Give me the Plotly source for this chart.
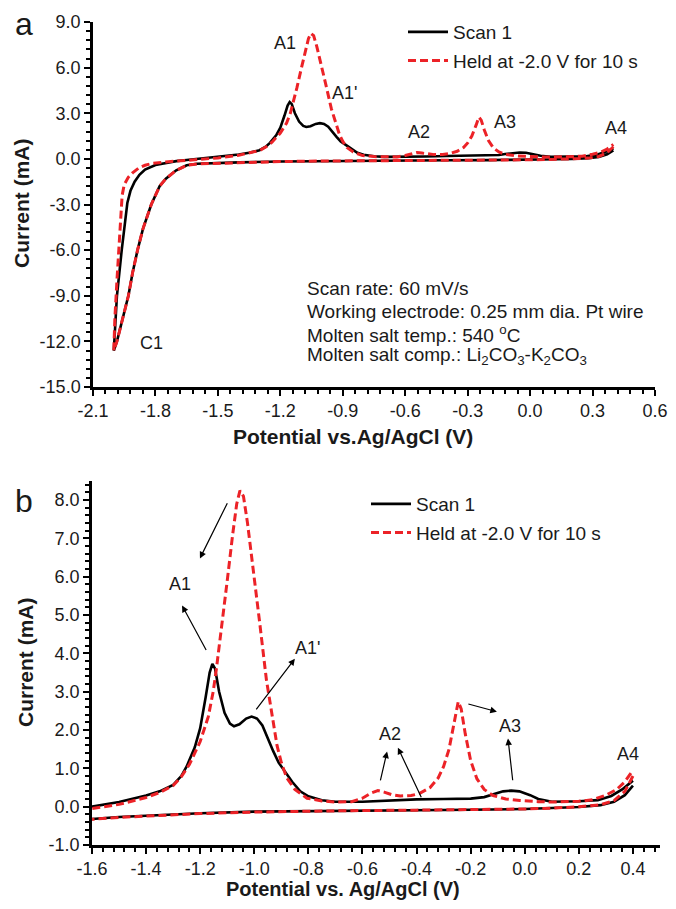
import plotly.graph_objects as go

# ---------------- data (V vs Ag/AgCl, mA) ----------------
# Scan 1: cathodic sweep 0.4 -> -2.0 V, then anodic sweep -2.0 -> 0.4 V
scan1_v = [0.40, 0.37, 0.33, 0.28, 0.20, 0.10, 0.00, -0.20, -0.40, -0.60, -0.80, -1.00,
           -1.20, -1.40, -1.50, -1.60, -1.65, -1.70, -1.75, -1.78, -1.82, -1.86, -1.886,
           -1.91, -1.93, -1.96, -1.985, -2.00,
           -1.995, -1.985, -1.962, -1.945, -1.935, -1.92, -1.90, -1.877, -1.85, -1.80,
           -1.75, -1.70, -1.65, -1.60, -1.50, -1.40, -1.35, -1.30, -1.27, -1.25, -1.22,
           -1.20, -1.18, -1.165, -1.155, -1.145, -1.13, -1.11, -1.09, -1.075, -1.055,
           -1.03, -1.01, -0.99, -0.97, -0.955, -0.93, -0.91, -0.89, -0.86, -0.83, -0.80,
           -0.75, -0.70, -0.60, -0.50, -0.40, -0.30, -0.20, -0.15, -0.12, -0.08, -0.05,
           -0.02, 0.02, 0.05, 0.10, 0.20, 0.27, 0.32, 0.36, 0.40]
scan1_i = [0.55, 0.30, 0.13, 0.04, -0.01, -0.04, -0.06, -0.08, -0.09, -0.10, -0.12, -0.13,
           -0.17, -0.23, -0.27, -0.32, -0.42, -0.75, -1.30, -1.80, -3.00, -4.60, -6.00,
           -7.50, -9.00, -10.60, -12.00, -12.60,
           -11.50, -9.00, -6.00, -3.80, -2.90, -2.10, -1.50, -1.05, -0.70, -0.40,
           -0.25, -0.15, -0.07, 0.00, 0.12, 0.29, 0.40, 0.57, 0.80, 1.05, 1.55,
           2.05, 2.85, 3.50, 3.73, 3.60, 3.00, 2.45, 2.17, 2.10, 2.15,
           2.30, 2.35, 2.30, 2.12, 1.85, 1.45, 1.15, 0.95, 0.65, 0.40, 0.27,
           0.17, 0.13, 0.13, 0.16, 0.19, 0.20, 0.21, 0.25, 0.32, 0.40, 0.42,
           0.40, 0.30, 0.20, 0.13, 0.14, 0.17, 0.28, 0.45, 0.68]

# Held at -2.0 V for 10 s
held_v = [0.40, 0.37, 0.33, 0.28, 0.20, 0.10, 0.00, -0.20, -0.40, -0.60, -0.80, -1.00,
          -1.20, -1.40, -1.50, -1.60, -1.65, -1.70, -1.75, -1.78, -1.82, -1.86, -1.886,
          -1.91, -1.93, -1.96, -1.985, -2.00,
          -1.995, -1.985, -1.975, -1.968, -1.96, -1.95, -1.93, -1.91, -1.88, -1.85,
          -1.815, -1.75, -1.70, -1.60, -1.50, -1.40, -1.35, -1.30, -1.27, -1.24, -1.20,
          -1.17, -1.152, -1.14, -1.12, -1.10, -1.08, -1.065, -1.053, -1.04, -1.025,
          -1.005, -0.98, -0.955, -0.935, -0.916, -0.90, -0.88, -0.85, -0.805, -0.75,
          -0.70, -0.64, -0.60, -0.57, -0.543, -0.52, -0.49, -0.46, -0.42, -0.39, -0.35,
          -0.32, -0.30, -0.28, -0.26, -0.246, -0.235, -0.22, -0.20, -0.177, -0.15,
          -0.117, -0.07, -0.018, 0.05, 0.104, 0.20, 0.25, 0.30, 0.34, 0.37, 0.40]
held_i = [0.80, 0.40, 0.16, 0.05, 0.00, -0.04, -0.06, -0.08, -0.09, -0.10, -0.12, -0.14,
          -0.18, -0.24, -0.28, -0.33, -0.43, -0.75, -1.30, -1.80, -3.00, -4.60, -6.00,
          -7.50, -9.00, -10.60, -12.00, -12.60,
          -10.50, -8.00, -5.50, -3.50, -2.40, -1.70, -1.20, -0.92, -0.60, -0.42,
          -0.30, -0.20, -0.14, -0.05, 0.06, 0.24, 0.37, 0.55, 0.78, 1.10, 1.70,
          2.35, 3.00, 3.60, 4.70, 5.90, 7.10, 7.90, 8.25, 8.10, 7.40,
          6.30, 4.80, 3.30, 2.40, 1.60, 1.15, 0.75, 0.45, 0.22, 0.15,
          0.12, 0.13, 0.22, 0.35, 0.42, 0.38, 0.31, 0.28, 0.29, 0.34, 0.50,
          0.75, 1.05, 1.50, 2.20, 2.74, 2.55, 1.90, 1.20, 0.73, 0.45,
          0.29, 0.20, 0.16, 0.13, 0.12, 0.14, 0.18, 0.30, 0.45, 0.65, 0.95]

series_names = ["Scan 1", "Held at -2.0 V for 10 s"]

# axis ticks
top_x_ticks = [-2.1, -1.8, -1.5, -1.2, -0.9, -0.6, -0.3, 0.0, 0.3, 0.6]
top_y_ticks = [-15, -12, -9, -6, -3, 0, 3, 6, 9]
bot_x_ticks = [-1.6, -1.4, -1.2, -1.0, -0.8, -0.6, -0.4, -0.2, 0.0, 0.2, 0.4]
bot_y_ticks = [-1, 0, 1, 2, 3, 4, 5, 6, 7, 8]

# peak labels (text, V, I)
top_labels = [("A1", -1.179, 7.63), ("A1'", -0.894, 4.34), ("A2", -0.534, 1.78),
              ("A3", -0.121, 2.43), ("A4", 0.411, 2.04), ("C1", -1.82, -12.1)]
bot_labels = [("A1", -1.275, 5.82), ("A1'", -0.805, 4.15), ("A2", -0.498, 1.90),
              ("A3", -0.055, 2.11), ("A4", 0.381, 1.38)]
# arrows (head V, head I, tail V, tail I)
bot_arrows = [(-1.201, 6.48, -1.097, 7.96), (-1.267, 5.25, -1.175, 4.05),
              (-0.850, 3.86, -0.997, 2.50),
              (-0.509, 1.44, -0.535, 0.65), (-0.469, 1.54, -0.380, 0.21),
              (-0.103, 2.48, -0.214, 2.69), (-0.062, 1.78, -0.044, 0.65)]

info_lines = ["Scan rate: 60 mV/s",
              "Working electrode: 0.25 mm dia. Pt wire",
              "Molten salt temp.: 540 <sup>o</sup>C",
              "Molten salt comp.: Li<sub>2</sub>CO<sub>3</sub>-K<sub>2</sub>CO<sub>3</sub>"]


def fmt(vals):
    return [f"{v:.1f}" for v in vals]


# ---------------- figure ----------------
FONT = "Liberation Sans, Arial, sans-serif"
TXT = "#1a1a1a"
RED = "#ec2227"
OFF = 8                 # page body margin
W, H = 676 - 2 * OFF, 909 - 2 * OFF


def fx(p):              # page pixel -> paper x
    return (p - OFF) / W


def fy(p):              # page pixel -> paper y
    return 1 - (p - OFF) / H


fig = go.Figure()
for xa, ya, lg in [("x", "y", "legend"), ("x2", "y2", "legend2")]:
    fig.add_trace(go.Scatter(x=scan1_v, y=scan1_i, mode="lines", name=series_names[0],
                             line=dict(color="black", width=2.6), xaxis=xa, yaxis=ya,
                             legend=lg, legendgroup=lg + "a"))
    fig.add_trace(go.Scatter(x=held_v, y=held_i, mode="lines", name=series_names[1],
                             line=dict(color=RED, width=3, dash="8px,4px"), xaxis=xa, yaxis=ya,
                             legend=lg, legendgroup=lg + "b"))

axis_common = dict(showline=True, linecolor="black", linewidth=2.5, ticks="outside",
                   ticklen=6, tickwidth=2, tickcolor="black", showgrid=False, zeroline=False,
                   tickfont=dict(family=FONT, size=18, color=TXT), automargin=False,
                   tickmode="array", ticklabeloverflow="allow")
minor_common = dict(ticks="outside", ticklen=4, tickwidth=1.5, tickcolor="black")
legend_common = dict(xanchor="left", yanchor="top", font=dict(family=FONT, size=19, color=TXT),
                     bgcolor="rgba(0,0,0,0)", traceorder="grouped", tracegroupgap=1,
                     itemwidth=40)

fig.update_layout(
    width=W, height=H, margin=dict(l=0, r=0, t=0, b=0),
    paper_bgcolor="white", plot_bgcolor="white",
    xaxis=dict(domain=[fx(93), fx(655)], range=[-2.1, 0.6], anchor="y",
               tickvals=top_x_ticks, ticktext=fmt(top_x_ticks),
               minor=dict(dtick=0.06, tick0=-2.1, **minor_common), **axis_common),
    yaxis=dict(domain=[fy(387), fy(22)], range=[-15, 9], anchor="x",
               tickvals=top_y_ticks, ticktext=fmt(top_y_ticks),
               minor=dict(dtick=0.6, tick0=-15, **minor_common), **axis_common),
    xaxis2=dict(domain=[fx(92), fx(660)], range=[-1.6, 0.5], anchor="y2",
                tickvals=bot_x_ticks, ticktext=fmt(bot_x_ticks),
                minor=dict(dtick=0.04, tick0=-1.6, **minor_common), **axis_common),
    yaxis2=dict(domain=[fy(845), fy(481)], range=[-1, 8.5], anchor="x2",
                tickvals=bot_y_ticks, ticktext=fmt(bot_y_ticks),
                minor=dict(dtick=0.2, tick0=-1, **minor_common), **axis_common),
    legend=dict(x=fx(403), y=fy(13), **legend_common),
    legend2=dict(x=fx(366), y=fy(485), **legend_common),
    showlegend=True,
)

ann = []


def txt(text, xp, yp, size, angle=0):
    ann.append(dict(text=text, x=fx(xp), y=fy(yp), xref="paper", yref="paper",
                    xanchor="center", yanchor="middle", textangle=angle, showarrow=False,
                    font=dict(family=FONT, size=size, color=TXT)))


# panel letters
txt("a", 24, 24, 32)
txt("b", 24, 501, 32)
# axis titles
txt("<b>Current (mA)</b>", 21, 203, 21, -90)
txt("<b>Current (mA)</b>", 25, 662, 21, -90)
txt("<b>Potential vs.Ag/AgCl (V)</b>", 353, 436, 21)
txt("<b>Potential vs. Ag/AgCl (V)</b>", 343, 889, 20)

# peak labels
for t, xv, yv in top_labels:
    ann.append(dict(text=t, x=xv, y=yv, xref="x", yref="y", showarrow=False,
                    font=dict(family=FONT, size=18, color=TXT)))
for t, xv, yv in bot_labels:
    ann.append(dict(text=t, x=xv, y=yv, xref="x2", yref="y2", showarrow=False,
                    font=dict(family=FONT, size=18, color=TXT)))
for hx, hy, tx, ty in bot_arrows:
    ann.append(dict(text="", x=hx, y=hy, ax=tx, ay=ty, xref="x2", yref="y2", axref="x2",
                    ayref="y2", showarrow=True, arrowhead=2, arrowsize=1.1, arrowwidth=1.2,
                    arrowcolor="black"))
# info text block, one annotation per line
for k, line in enumerate(info_lines):
    ann.append(dict(text=line, x=fx(305), y=fy(289 + 22.3 * k), xref="paper", yref="paper",
                    xanchor="left", yanchor="middle", showarrow=False,
                    font=dict(family=FONT, size=19, color=TXT)))
fig.update_layout(annotations=ann)

fig.write_html("out.html")
